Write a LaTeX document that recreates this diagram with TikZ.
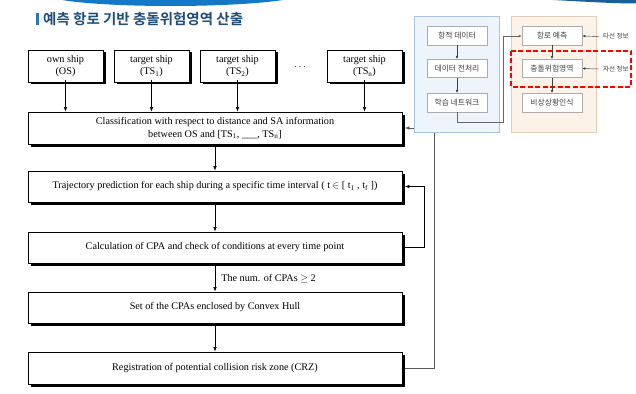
\documentclass[tikz,border=0pt]{standalone}
\usepackage{fontspec}
\setmainfont{Liberation Serif}
\newfontfamily\kr{Noto Sans CJK KR}[BoldFont={Noto Sans CJK KR Bold}]
\usetikzlibrary{arrows.meta,shadows,calc}
\definecolor{titleblue}{HTML}{1F4E79}
\definecolor{barblue}{HTML}{2E75B6}
\definecolor{arcblue}{HTML}{1478C8}
\definecolor{arcdark}{HTML}{1A5E9A}
\definecolor{bluefill}{HTML}{EEF4FB}
\definecolor{blueline}{HTML}{A8C4E0}
\definecolor{orfill}{HTML}{FCF2E8}
\definecolor{orline}{HTML}{E2CDB8}
\begin{document}
\begin{tikzpicture}[x=1pt,y=-1pt,
  mbox/.style={draw=black, line width=0.8pt, fill=white,
    drop shadow={shadow xshift=2.5pt, shadow yshift=-2.5pt, fill=black, opacity=1},
    font=\fontsize{10.2}{12.5}\selectfont, align=center, inner sep=0pt},
  shipbox/.style={mbox, minimum width=75pt, minimum height=32pt},
  stepbox/.style={mbox, minimum width=374pt},
  kbox/.style={draw=gray!65, line width=0.5pt, fill=white, minimum width=60pt,
    minimum height=18.5pt, font=\kr\fontsize{7.8}{9}\selectfont, text=black!75, inner sep=0pt},
  klabel/.style={font=\kr\fontsize{6.5}{7}\selectfont, text=black!75, inner sep=0pt},
  arr/.style={-{Latex[length=4.5pt,width=3.6pt]}, line width=0.6pt},
  sarr/.style={-{Latex[length=3pt,width=2.6pt]}, line width=0.45pt, draw=black!75},
]
\useasboundingbox (0,0) rectangle (636,393);
% top decorative arcs
\fill[arcblue] (62,0) .. controls (110,8) and (230,8) .. (283,0) -- cycle;
\fill[arcdark] (553,0) .. controls (590,2) and (615,3.5) .. (636,3.5) -- (636,0) -- cycle;
% title
\fill[barblue] (36,13) rectangle (39,25);
\node[anchor=west, font=\kr\bfseries\fontsize{14.5}{16}\selectfont, text=titleblue, inner sep=0pt] (title) at (43,19) {예측 항로 기반 충돌위험영역 산출};

% ship boxes
\node[shipbox] (os) at (65.5,66) {own ship\\(OS)};
\node[shipbox] (ts1) at (151.5,66) {target ship\\(TS\textsubscript{1})};
\node[shipbox] (ts2) at (237.5,66) {target ship\\(TS\textsubscript{2})};
\node[inner sep=0pt] (dots) at (300,67) {$\cdots$};
\node[shipbox] (tsn) at (364.5,66) {target ship\\(TS\textsubscript{n})};

% process boxes
\node[stepbox, minimum height=32pt] (cls) at (215,128) {Classification with respect to distance and SA information\\between OS and [TS\textsubscript{1}, \_\_\_, TS\textsubscript{n}]};
\node[stepbox, minimum height=31pt] (traj) at (215,186.5) {Trajectory prediction for each ship during a specific time interval ( t $\in$ [ t\textsubscript{1} , t\textsubscript{f} ])};
\node[stepbox, minimum height=31pt] (calc) at (215,247.5) {Calculation of CPA and check of conditions at every time point};
\node[stepbox, minimum height=31pt] (set) at (215,307.5) {Set of the CPAs enclosed by Convex Hull};
\node[stepbox, minimum height=32pt] (reg) at (215,368) {Registration of potential collision risk zone (CRZ)};

% main connectors
\foreach \s in {os,ts1,ts2,tsn} \draw[arr] (\s.south) ++(0,-2.5) -- (\s.south |- cls.north);
\draw[arr] (cls.south) ++(0,2.5) -- (traj.north);
\draw[arr] (traj.south) ++(0,2.5) -- (calc.north);
\draw[arr] (calc.south) ++(0,2.5) -- node[right, inner sep=0pt, xshift=6pt, font=\fontsize{10.2}{12}\selectfont] (lbl) {The num. of CPAs $\geq$ 2} (set.north);
\draw[arr] (set.south) ++(0,2.5) -- (reg.north);
\draw[arr] (calc.east) ++(2.5,0) -- ++(19.5,0) |- ($(traj.east)+(2.5,0)$);
\draw[arr, draw=black!65] (reg.east) ++(2.5,0) -- ++(29.5,0) |- ($(cls.east)+(2.5,0)$);

% right panels
\draw[draw=blueline, fill=bluefill, line width=0.6pt] (414,16) rectangle (499,132);
\draw[draw=orline, fill=orfill, line width=0.6pt] (511,16) rectangle (596,132);
\node[kbox] (trk) at (457,36) {항적 데이터};
\node[kbox] (pre) at (457,68.5) {데이터 전처리};
\node[kbox] (lrn) at (457,102.5) {학습 네트워크};
\node[kbox] (pred) at (552,36) {항로 예측};
\node[kbox] (crz) at (552,68.5) {충돌위험영역};
\node[kbox] (emg) at (552,102.5) {비상상황인식};
\draw[red, line width=1.4pt, dash pattern=on 5pt off 2.5pt] (511,51) rectangle (631,87);
\draw[sarr] (trk.south) -- (pre.north);
\draw[sarr] (pre.south) -- (lrn.north);
\draw[sarr] (pred.south) -- (crz.north);
\draw[sarr] (crz.south) -- (emg.north);
\coordinate (c1) at (503,122);
\draw[sarr, draw=black!60] (lrn.south) |- (c1) |- (pred.west);
\node[klabel, anchor=west] (ta) at (603,36.5) {타선 정보};
\node[klabel, anchor=west] (ja) at (603,69) {자선 정보};
\draw[sarr] (ta.west) ++(-4,0) -- (pred.east);
\draw[sarr] (ja.west) ++(-4,0) -- (crz.east);
\end{tikzpicture}
\end{document}
